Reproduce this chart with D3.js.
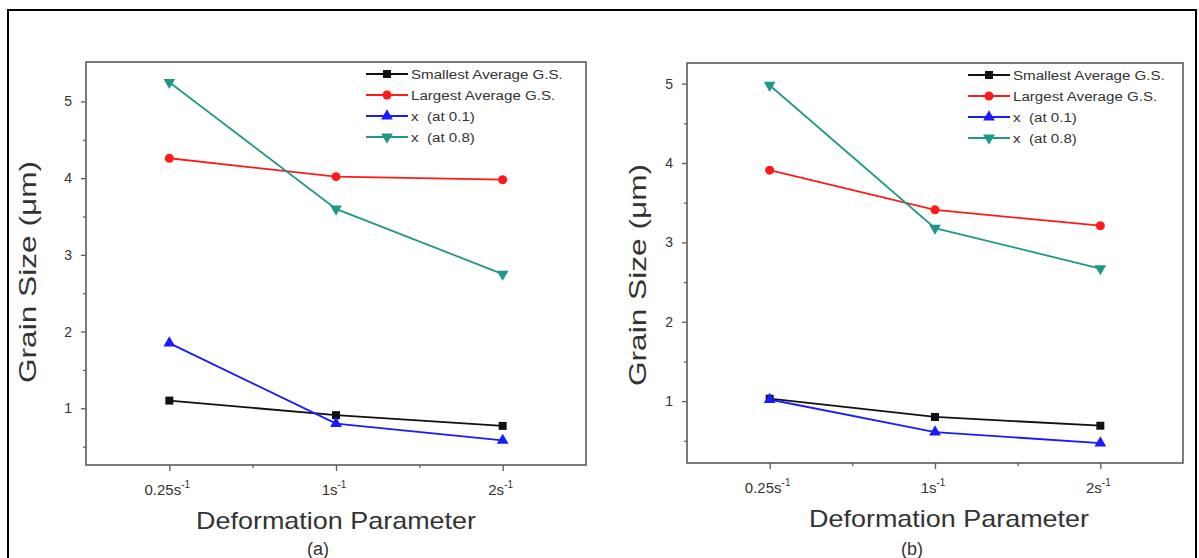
<!DOCTYPE html>
<html><head><meta charset="utf-8">
<script src="https://cdn.jsdelivr.net/npm/d3@7"></script>
<style>html,body{margin:0;padding:0;background:#fff;}svg{display:block;font-family:"Liberation Sans",Arial,sans-serif;}</style>
</head><body>
<svg id="c" width="1199" height="558"></svg>
<script>
// ---- data ----
const categories = ["0.25s", "1s", "2s"];
const seriesNames = ["Smallest Average G.S.", "Largest Average G.S.", "x\u00a0\u00a0(at 0.1)", "x\u00a0\u00a0(at 0.8)"];
const seriesColors = ["#111111", "#ff1a1a", "#1a1aff", "#1f9985"];
const seriesSymbols = ["square", "circle", "triUp", "triDown"];
const yTicks = [1, 2, 3, 4, 5];
const panelLabels = ["(a)", "(b)"];

const a_smallest = [1.10, 0.91, 0.77];
const a_largest  = [4.26, 4.02, 3.98];
const a_x01      = [1.85, 0.80, 0.58];
const a_x08      = [5.25, 3.60, 2.75];

const b_smallest = [1.03, 0.80, 0.69];
const b_largest  = [3.91, 3.41, 3.21];
const b_x01      = [1.02, 0.61, 0.47];
const b_x08      = [4.98, 3.18, 2.67];

const svg = d3.select("#c");
// outer frame
svg.append("rect").attr("x", 8).attr("y", 10).attr("width", 1188).attr("height", 560)
  .attr("fill", "none").attr("stroke", "#000").attr("stroke-width", 2);

const panels = [
  {series: [a_smallest, a_largest, a_x01, a_x08], x0: 86, x1: 586, yTop: 62, yBot: 465, ymin: 0.26, ymax: 5.515,
   legX: 366, legY: 74, titleY: 272, titleX: 36, label: panelLabels[0], labX: 318},
  {series: [b_smallest, b_largest, b_x01, b_x08], x0: 687, x1: 1183, yTop: 63, yBot: 463, ymin: 0.22, ymax: 5.26,
   legX: 968, legY: 75, titleY: 275, titleX: 646, label: panelLabels[1], labX: 912}
];

function symbolPath(type) {
  if (type === "square") return d3.symbol(d3.symbolSquare, 64)();
  if (type === "circle") return d3.symbol(d3.symbolCircle, 64)();
  return d3.symbol(d3.symbolTriangle, 60)();
}

panels.forEach(p => {
  const g = svg.append("g");
  const x = d3.scaleLinear().domain([-0.5, categories.length - 0.5]).range([p.x0, p.x1]);
  const y = d3.scaleLinear().domain([p.ymin, p.ymax]).range([p.yBot, p.yTop]);

  // frame
  g.append("rect").attr("x", p.x0).attr("y", p.yTop).attr("width", p.x1 - p.x0).attr("height", p.yBot - p.yTop)
    .attr("fill", "none").attr("stroke", "#5a5a5a").attr("stroke-width", 1.6);

  // y axis
  const yAx = d3.axisLeft(y).tickValues(yTicks).tickSize(5).tickPadding(9).tickFormat(d3.format("d"));
  const ya = g.append("g").attr("transform", `translate(${p.x0},0)`).call(yAx);
  ya.select(".domain").remove();
  ya.selectAll("line").attr("stroke", "#5a5a5a").attr("stroke-width", 1.3);
  ya.selectAll("text").attr("font-size", 14).attr("fill", "#333").attr("font-family", "Liberation Sans, Arial");
  const yMinor = d3.axisLeft(y).tickValues([0.5, 1.5, 2.5, 3.5, 4.5]).tickSize(3).tickFormat("");
  const ym = g.append("g").attr("transform", `translate(${p.x0},0)`).call(yMinor);
  ym.select(".domain").remove();
  ym.selectAll("line").attr("stroke", "#5a5a5a").attr("stroke-width", 1.2);

  // x axis
  const xAx = d3.axisBottom(x).tickValues(d3.range(categories.length)).tickSize(6).tickFormat("");
  const xa = g.append("g").attr("transform", `translate(0,${p.yBot})`).call(xAx);
  xa.select(".domain").remove();
  xa.selectAll("line").attr("stroke", "#5a5a5a").attr("stroke-width", 1.3);
  const xMinor = d3.axisBottom(x).tickValues([0.5, 1.5]).tickSize(3).tickFormat("");
  const xm = g.append("g").attr("transform", `translate(0,${p.yBot})`).call(xMinor);
  xm.select(".domain").remove();
  xm.selectAll("line").attr("stroke", "#5a5a5a").attr("stroke-width", 1.2);

  // x tick labels with superscript
  categories.forEach((c, i) => {
    const t = g.append("text").attr("x", x(i) - 2).attr("y", p.yBot + 30).attr("text-anchor", "middle")
      .attr("font-size", 15).attr("fill", "#333");
    t.append("tspan").text(c);
    t.append("tspan").attr("dy", -7).attr("font-size", 10).text("-1");
  });

  // axis titles
  g.append("text").attr("transform", `translate(${p.titleX},${p.titleY}) rotate(-90)`)
    .attr("text-anchor", "middle").attr("font-size", 24).attr("fill", "#333")
    .attr("textLength", 222).attr("lengthAdjust", "spacingAndGlyphs")
    .text("Grain Size (\u03bcm)");
  g.append("text").attr("x", (p.x0 + p.x1) / 2 + (p === panels[0] ? 0 : 14)).attr("y", p.yBot + 64)
    .attr("text-anchor", "middle").attr("font-size", 24).attr("fill", "#333")
    .attr("textLength", 280).attr("lengthAdjust", "spacingAndGlyphs")
    .text("Deformation Parameter");
  g.append("text").attr("x", p.labX).attr("y", 555).attr("text-anchor", "middle")
    .attr("font-size", 18).attr("fill", "#333").text(p.label);

  // series
  const line = d3.line().x((d, i) => x(i)).y(d => y(d));
  p.series.forEach((s, k) => {
    g.append("path").datum(s).attr("d", line).attr("fill", "none")
      .attr("stroke", seriesColors[k]).attr("stroke-width", 1.8);
    g.selectAll(null).data(s).enter().append("path")
      .attr("d", symbolPath(seriesSymbols[k]))
      .attr("transform", (d, i) => `translate(${x(i)},${y(d)})` + (seriesSymbols[k] === "triDown" ? " rotate(180)" : ""))
      .attr("fill", seriesColors[k]);
  });

  // legend
  seriesNames.forEach((n, k) => {
    const ly = p.legY + k * 21;
    g.append("line").attr("x1", p.legX).attr("x2", p.legX + 42).attr("y1", ly).attr("y2", ly)
      .attr("stroke", seriesColors[k]).attr("stroke-width", 1.8);
    g.append("path").attr("d", symbolPath(seriesSymbols[k]))
      .attr("transform", `translate(${p.legX + 21},${ly})` + (seriesSymbols[k] === "triDown" ? " rotate(180)" : ""))
      .attr("fill", seriesColors[k]);
    g.append("text").attr("transform", `translate(${p.legX + 45},${ly + 5}) scale(1.12,1)`)
      .attr("font-size", 13.5).attr("fill", "#333").text(n);
  });
});
</script>
</body></html>
